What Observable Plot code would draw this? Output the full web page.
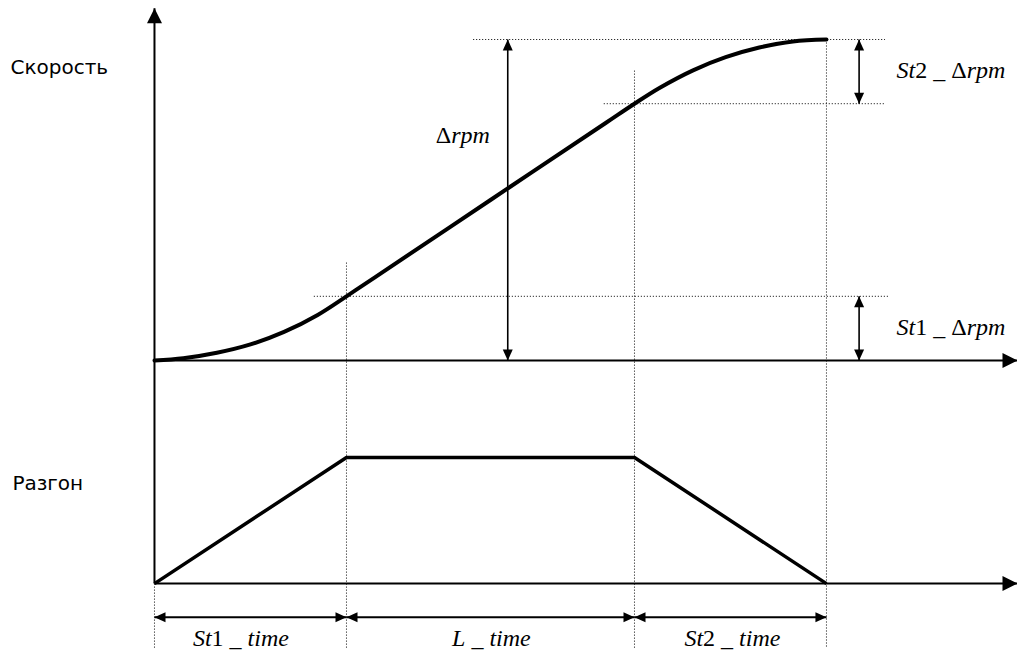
<!DOCTYPE html>
<html><head><meta charset="utf-8">
<style>html,body{margin:0;padding:0;background:#fff}#chart svg{display:block}</style>
<script src="https://cdn.jsdelivr.net/npm/d3@7"></script>
<script src="https://cdn.jsdelivr.net/npm/@observablehq/plot@0.6"></script>
</head><body><div id="chart"></div>
<script>
// ---- data (time units / speed units) ----
const phaseNames = ["St1 _ time", "L _ time", "St2 _ time"];
const phaseStart = [0, 2, 5];
const phaseEnd   = [2, 5, 7];
const phaseLabelX = [0.9, 3.51, 6.02];

const speedT = [0, 0.3, 0.65, 1.0, 1.35, 1.7, 2.0, 2.3, 3.5, 4.7, 5.0, 5.26, 5.61, 5.95, 6.3, 6.65, 7.0];
const speedV = [0, 0.7, 2.4, 5.0, 8.9, 14.2, 20, 26, 50, 74, 80, 84.9, 90.4, 94.5, 97.5, 99.4, 100];

const accT = [0, 2, 5, 7];
const accV = [0, 1, 1, 0];

const rpmLevels = [20, 80, 100];          // St1 end, St2 start, final speed
const levelNames = ["St1 _ Δrpm", "St2 _ Δrpm", "Δrpm"];

const panelNames = ["Скорость", "Разгон"];

// ---- layout constants ----
const ACC_BASE = -69.5;   // acceleration panel zero line (in y units)
const ACC_GAIN = 39.3;    // acceleration panel height
const X_MAX = 8.99, Y_TOP = 109.7;
const TIME_ARROW_Y = -80, DOT_BOTTOM = -89.5, LABEL_BASE = -88.8;
const SERIF = "Liberation Serif";

const accY = a => ACC_BASE + a * ACC_GAIN;

const speed = speedT.map((t, i) => ({t, v: speedV[i]}));
const acc = accT.map((t, i) => ({t, a: accV[i]}));

// axes
const axes = [
  {x1: 0, y1: ACC_BASE, x2: 0, y2: Y_TOP, dir: "up"},
  {x1: 0, y1: 0, x2: X_MAX, y2: 0, dir: "right"},
  {x1: 0, y1: ACC_BASE, x2: X_MAX, y2: ACC_BASE, dir: "right"}
];

// dotted guides
const dotted = [
  {x1: 0, y1: ACC_BASE, x2: 0, y2: DOT_BOTTOM},
  {x1: phaseEnd[0], y1: 30.5, x2: phaseEnd[0], y2: DOT_BOTTOM},
  {x1: phaseEnd[1], y1: 90.3, x2: phaseEnd[1], y2: DOT_BOTTOM},
  {x1: phaseEnd[2], y1: rpmLevels[2], x2: phaseEnd[2], y2: DOT_BOTTOM},
  {x1: 3.32, y1: rpmLevels[2], x2: 7.61, y2: rpmLevels[2]},
  {x1: 4.68, y1: rpmLevels[1], x2: 7.61, y2: rpmLevels[1]},
  {x1: 1.66, y1: rpmLevels[0], x2: 7.64, y2: rpmLevels[0]}
];

// dimension arrows
const dims = [
  {x1: 3.68, y1: 0, x2: 3.68, y2: rpmLevels[2], w: 1.6},
  {x1: 7.34, y1: rpmLevels[1], x2: 7.34, y2: rpmLevels[2], w: 1.6},
  {x1: 7.34, y1: 0, x2: 7.34, y2: rpmLevels[0], w: 1.6},
  ...phaseStart.map((s, i) => ({x1: s, y1: TIME_ARROW_Y, x2: phaseEnd[i], y2: TIME_ARROW_Y, w: 2}))
];

function dirOf(fx, fy, tx, ty) { // direction pointing from f to t
  if (fx === tx) return ty > fy ? "up" : "down";
  return tx > fx ? "right" : "left";
}
const heads = [];
for (const a of axes) heads.push({x: a.x2, y: a.y2, dir: a.dir, big: true});
for (const d of dims) {
  heads.push({x: d.x2, y: d.y2, dir: dirOf(d.x1, d.y1, d.x2, d.y2), big: false});
  heads.push({x: d.x1, y: d.y1, dir: dirOf(d.x2, d.y2, d.x1, d.y1), big: false});
}

function tri(dir, L, W) {
  return {draw(ctx) {
    const h = W / 2;
    ctx.moveTo(0, 0);
    if (dir === "up") { ctx.lineTo(-h, L); ctx.lineTo(h, L); }
    else if (dir === "down") { ctx.lineTo(-h, -L); ctx.lineTo(h, -L); }
    else if (dir === "right") { ctx.lineTo(-L, -h); ctx.lineTo(-L, h); }
    else { ctx.lineTo(L, -h); ctx.lineTo(L, h); }
    ctx.closePath();
  }};
}
const headMarks = [];
for (const dir of ["up", "down", "left", "right"]) {
  for (const big of [true, false]) {
    headMarks.push(Plot.dot(heads, {
      filter: d => d.dir === dir && d.big === big,
      x: "x", y: "y",
      symbol: big ? tri(dir, 15, 15) : tri(dir, 11, 10),
      fill: "black", stroke: "none"
    }));
  }
}

const levelLabels = [
  {x: 7.73, y: 7.8, text: levelNames[0]},
  {x: 7.73, y: 87.9, text: levelNames[1]},
  {x: 2.93, y: 67.9, text: levelNames[2]}
];
const timeLabels = phaseNames.map((n, i) => ({x: phaseLabelX[i], y: LABEL_BASE, text: n}));
const panelLabels = [
  {x: -1.50, y: 89.4, text: panelNames[0]},
  {x: -1.48, y: -40.2, text: panelNames[1]}
];

const chart = Plot.plot({
  width: 1017, height: 663,
  marginTop: 0, marginRight: 0, marginBottom: 0, marginLeft: 0,
  x: {domain: [-1.604, X_MAX], axis: null},
  y: {domain: [-94.39, 112.15], axis: null},
  style: {background: "white", overflow: "visible"},
  marks: [
    Plot.link(dotted, {x1: "x1", y1: "y1", x2: "x2", y2: "y2", stroke: "black", strokeWidth: 1, strokeDasharray: "1,2"}),
    Plot.link(axes, {x1: "x1", y1: "y1", x2: "x2", y2: "y2", stroke: "black", strokeWidth: 2}),
    Plot.link(dims, {x1: "x1", y1: "y1", x2: "x2", y2: "y2", stroke: "black", strokeWidth: "w"}),
    Plot.line(speed, {x: "t", y: "v", curve: "catmull-rom", stroke: "black", strokeWidth: 4}),
    Plot.line(acc, {x: "t", y: d => accY(d.a), stroke: "black", strokeWidth: 3.5, strokeLinejoin: "miter", strokeLinecap: "butt"}),
    ...headMarks,
    Plot.text(panelLabels, {x: "x", y: "y", text: "text", textAnchor: "start", lineAnchor: "bottom",
      fontFamily: "DejaVu Sans", fontSize: 20, fill: "black"}),
    Plot.text(levelLabels, {x: "x", y: "y", text: "text", textAnchor: "start", lineAnchor: "bottom",
      fontFamily: SERIF, fontSize: 24, fill: "black"}),
    Plot.text(timeLabels, {x: "x", y: "y", text: "text", textAnchor: "middle", lineAnchor: "bottom",
      fontFamily: SERIF, fontSize: 24, fill: "black"})
  ]
});
document.getElementById("chart").appendChild(chart);

// math-style labels: Latin letters italic; digits, Δ and underscore upright
chart.querySelectorAll("text").forEach(t => {
  const s = t.textContent;
  if (!/[_Δ]/.test(s)) return;
  while (t.firstChild) t.removeChild(t.firstChild);
  for (const m of s.matchAll(/[A-Za-z]+|[^A-Za-z]+/g)) {
    const ts = document.createElementNS("http://www.w3.org/2000/svg", "tspan");
    ts.textContent = m[0];
    ts.setAttribute("font-family", SERIF);
    ts.setAttribute("font-style", /[A-Za-z]/.test(m[0]) ? "italic" : "normal");
    t.appendChild(ts);
  }
});
</script></body></html>
